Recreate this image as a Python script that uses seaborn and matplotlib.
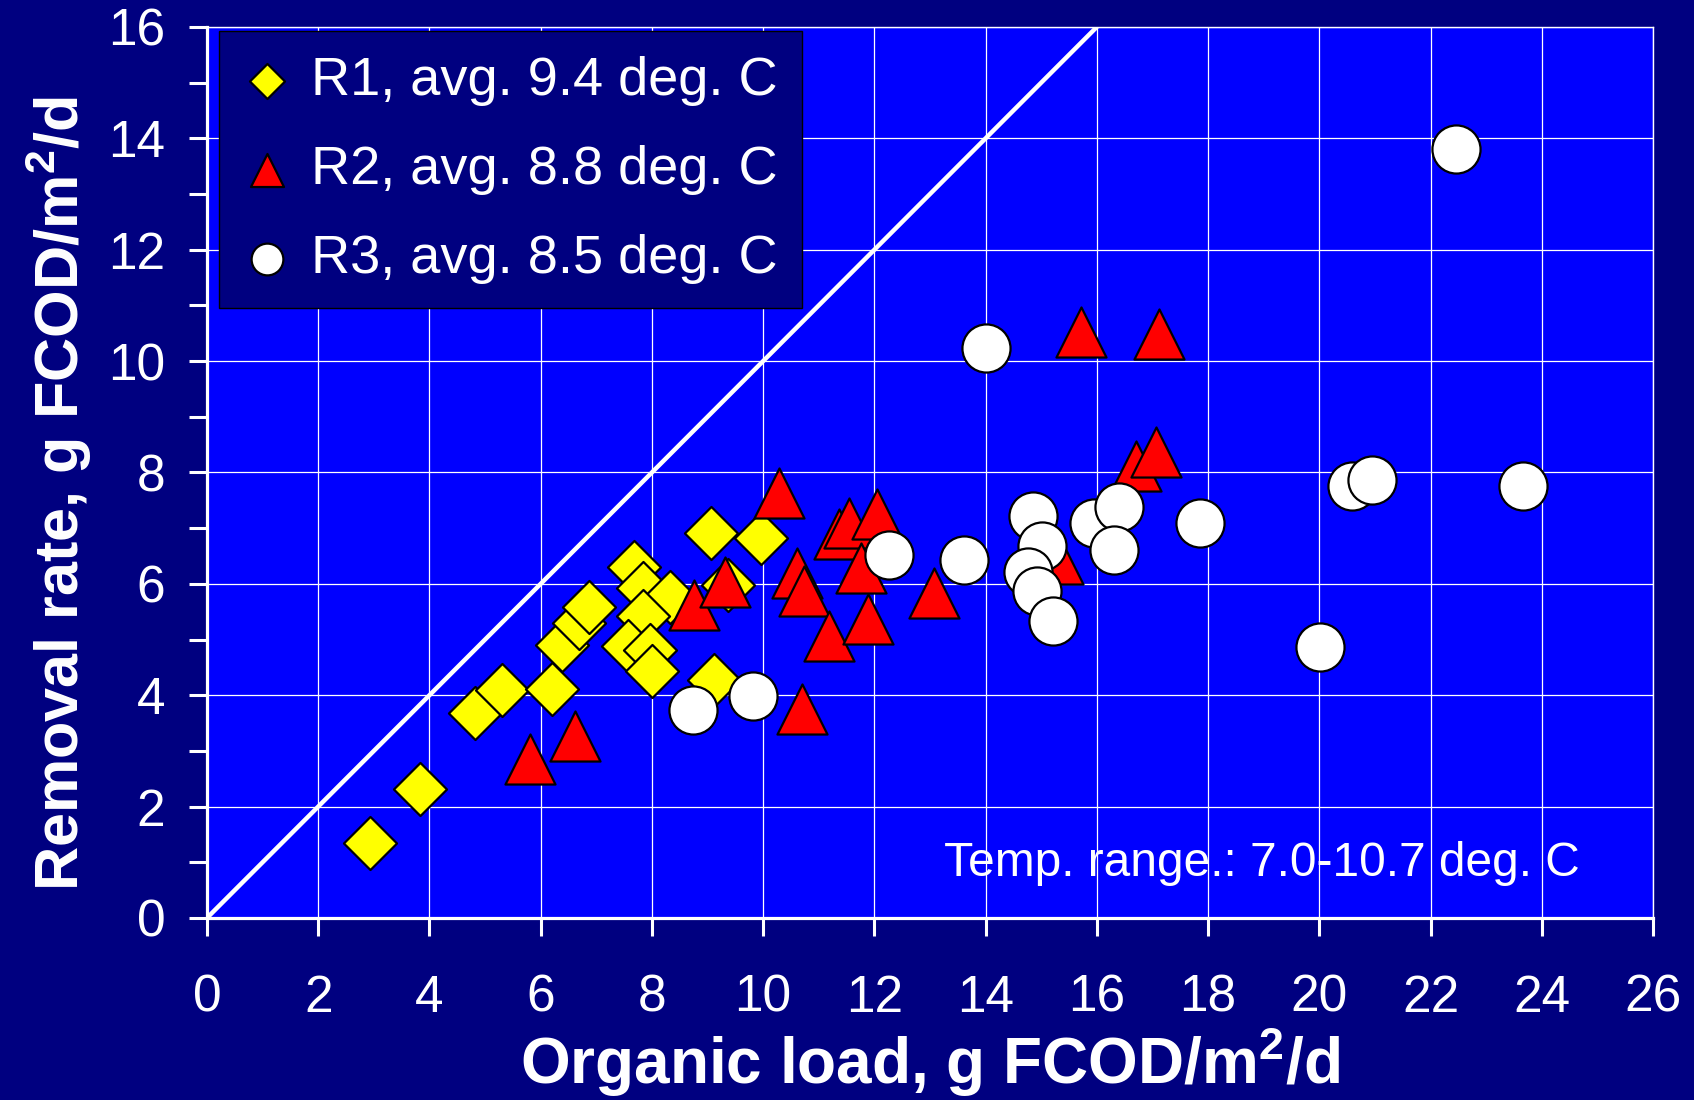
import matplotlib
matplotlib.use("Agg")
import matplotlib.pyplot as plt
import seaborn as sns
import pandas as pd
from matplotlib.ticker import MultipleLocator

# ---- data ----
r1_x = [2.93, 3.83, 4.82, 5.31, 6.21, 6.38, 6.68, 6.86, 7.68, 7.84, 8.33, 7.84, 7.57, 7.96, 8.01, 9.07, 9.97, 9.37, 9.11]
r1_y = [1.34, 2.31, 3.68, 4.09, 4.11, 4.91, 5.30, 5.59, 6.30, 5.92, 5.77, 5.42, 4.88, 4.82, 4.43, 6.91, 6.82, 5.98, 4.28]

r2_x = [5.80, 6.62, 8.75, 9.32, 10.29, 10.61, 10.73, 11.19, 11.37, 11.55, 11.76, 11.88, 12.05, 13.08, 10.70, 15.30, 15.72, 17.11, 16.70, 17.07]
r2_y = [2.85, 3.27, 5.62, 6.04, 7.63, 6.20, 5.88, 5.06, 6.90, 7.10, 6.29, 5.37, 7.26, 5.84, 3.76, 6.45, 10.53, 10.49, 8.12, 8.37]

r3_x = [8.74, 9.81, 12.26, 13.62, 14.01, 14.85, 15.01, 14.77, 14.93, 15.22, 15.95, 16.39, 16.30, 17.85, 20.01, 20.58, 20.95, 22.45, 23.67]
r3_y = [3.74, 3.99, 6.51, 6.43, 10.24, 7.21, 6.68, 6.22, 5.87, 5.33, 7.09, 7.38, 6.60, 7.09, 4.87, 7.75, 7.87, 13.81, 7.76]

series_labels = ["R1, avg. 9.4 deg. C", "R2, avg. 8.8 deg. C", "R3, avg. 8.5 deg. C"]
x_ticks = list(range(0, 27, 2))
y_ticks = list(range(0, 17, 2))
x_label = r"Organic load, g FCOD/m$^\mathbf{2}$/d"
y_label = r"Removal rate, g FCOD/m$^\mathbf{2}$/d"
note = "Temp. range.: 7.0-10.7 deg. C"

# ---- style ----
sns.set_style("white")
plt.rcParams['font.family'] = ['Liberation Sans', 'DejaVu Sans']
plt.rcParams['mathtext.fontset'] = 'custom'
plt.rcParams['mathtext.rm'] = 'Liberation Sans'
plt.rcParams['mathtext.bf'] = 'Liberation Sans:bold'

NAVY = "#000080"
BLUE = "#0000FF"

fig = plt.figure(figsize=(16.94, 11.0), dpi=100, facecolor=NAVY)
ax = fig.add_axes([0.1222, 0.1655, 0.8536, 0.81])
ax.set_facecolor(BLUE)

specs = [
    (r1_x, r1_y, "D", "#FFFF00", 730),
    (r2_x, r2_y, "^", "#FF0000", 1300),
    (r3_x, r3_y, "o", "#FFFFFF", 1200),
]
for (xs, ys, mk, col, sz), lab in zip(specs, series_labels):
    df = pd.DataFrame({"x": xs, "y": ys})
    sns.scatterplot(data=df, x="x", y="y", marker=mk, color=col, s=sz,
                    edgecolor="black", linewidth=1.6, label=lab, ax=ax, zorder=3)

ax.axline((0, 0), slope=1, color="white", lw=3.2, zorder=2)

ax.set_xlim(0, 26)
ax.set_ylim(0, 16)
ax.set_xticks(x_ticks)
ax.set_yticks(y_ticks)
ax.yaxis.set_minor_locator(MultipleLocator(1))
ax.grid(True, which="major", color="white", lw=0.9, zorder=0)
ax.set_axisbelow(True)

for side in ["left", "bottom"]:
    ax.spines[side].set_color("white")
    ax.spines[side].set_linewidth(2.3)
for side in ["top", "right"]:
    ax.spines[side].set_color("white")
    ax.spines[side].set_linewidth(1.0)

ax.tick_params(axis="both", which="both", direction="out", color="white",
               width=2.2, length=13, labelcolor="white", labelsize=37)
ax.tick_params(axis="x", pad=27)
ax.tick_params(axis="y", pad=17)
ax.tick_params(axis="both", which="both", bottom=True, left=True)

ax.set_xlabel(x_label, fontsize=46, fontweight="bold", color="white")
ax.set_ylabel(y_label, fontsize=44, fontweight="bold", color="white")
ax.xaxis.label.set_va("center")
ax.yaxis.label.set_va("center")
ax.xaxis.set_label_coords(0.5, -0.162)
ax.yaxis.set_label_coords(-0.1024, 0.476)

ax.text(0.9495, 0.0606, note, transform=ax.transAxes, ha="right", va="center",
        color="white", fontsize=34.5, zorder=5)

handles, labels = ax.get_legend_handles_labels()
leg = ax.legend(handles, labels, loc="upper left", bbox_to_anchor=(0.008, 0.995),
                borderaxespad=0, frameon=True, fancybox=False, facecolor=NAVY,
                edgecolor="black", framealpha=1, fontsize=39, markerscale=0.66,
                handlelength=0.9, handletextpad=0.35, labelspacing=0.72,
                borderpad=0.45)
leg.get_frame().set_linewidth(1.0)
for t in leg.get_texts():
    t.set_color("white")
leg.set_zorder(6)

fig.savefig("out.png", dpi=100, facecolor=NAVY)
